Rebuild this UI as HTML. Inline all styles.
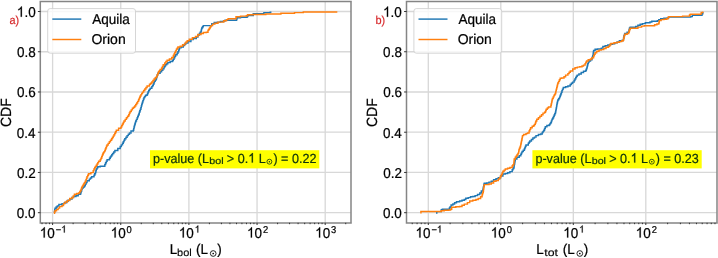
<!DOCTYPE html>
<html><head><meta charset="utf-8"><style>
html,body{margin:0;padding:0;background:#fff;}
svg{display:block;font-family:"Liberation Sans", sans-serif;}
text{filter:grayscale(1);stroke:#000;stroke-width:0.22px;}
text.r{filter:grayscale(1) url(#fr);stroke-width:0.2px;}
text.s{stroke-width:0.12px;}
tspan.h{fill-opacity:0;stroke-opacity:0;}
svg{font-kerning:none;text-rendering:geometricPrecision;}
text.g{filter:grayscale(1) url(#fg);}
</style></head><body>
<svg width="718" height="258" viewBox="0 0 718 258" fill="#000000">
<defs><filter id="fr" color-interpolation-filters="sRGB"><feColorMatrix type="matrix" values="0 0 0 0 0.84  0 0 0 0 0.15  0 0 0 0 0.16  0 0 0 1 0"/></filter><filter id="fg" color-interpolation-filters="sRGB"><feColorMatrix type="matrix" values="0 0 0 0 0.055  0 0 0 0 0.196  0 0 0 0 0.039  0 0 0 1 0"/></filter></defs>
<clipPath id="clipL"><rect x="40.5" y="1.3" width="310.40" height="221.50"/></clipPath>
<path d="M52.60,1.3 V222.8 M120.75,1.3 V222.8 M188.90,1.3 V222.8 M257.05,1.3 V222.8 M325.20,1.3 V222.8 M40.5,212.70 H350.9 M40.5,172.46 H350.9 M40.5,132.22 H350.9 M40.5,91.98 H350.9 M40.5,51.74 H350.9 M40.5,11.50 H350.9" stroke="#d8d8d8" stroke-width="1.3" fill="none"/>
<path d="M54.20,212.70 L54.47,212.70 L54.47,211.20 L54.73,211.20 L54.73,209.70 L55.00,209.70 L55.00,208.20 L56.15,208.20 L56.15,207.05 L57.30,207.05 L57.30,205.90 L58.90,205.90 L58.90,204.40 L62.00,204.40 L62.00,203.60 L64.30,203.60 L64.30,202.80 L66.60,202.80 L66.60,201.30 L68.15,201.30 L68.15,200.10 L69.70,200.10 L69.70,198.90 L72.00,198.90 L72.00,197.40 L73.60,197.40 L73.60,196.60 L75.90,196.60 L75.90,195.80 L78.20,195.80 L78.20,194.30 L80.60,194.30 L80.60,192.70 L81.10,192.70 L81.10,191.17 L81.60,191.17 L81.60,189.63 L82.10,189.63 L82.10,188.10 L83.25,188.10 L83.25,186.95 L84.40,186.95 L84.40,185.80 L85.27,185.80 L85.27,184.10 L86.13,184.10 L86.13,182.40 L87.00,182.40 L87.00,180.70 L89.30,180.70 L89.30,179.10 L90.45,179.10 L90.45,177.95 L91.60,177.95 L91.60,176.80 L94.00,176.80 L94.00,175.20 L94.75,175.20 L94.75,173.65 L95.50,173.65 L95.50,172.10 L95.90,172.10 L95.90,170.55 L96.30,170.55 L96.30,169.00 L97.05,169.00 L97.05,167.85 L97.80,167.85 L97.80,166.70 L100.20,166.70 L100.20,166.20 L104.00,166.20 L104.00,166.20 L104.80,166.20 L104.80,164.50 L105.60,164.50 L105.60,162.80 L106.35,162.80 L106.35,161.25 L107.10,161.25 L107.10,159.70 L109.50,159.70 L109.50,158.20 L110.25,158.20 L110.25,157.05 L111.00,157.05 L111.00,155.90 L111.80,155.90 L111.80,154.70 L112.60,154.70 L112.60,153.50 L113.75,153.50 L113.75,151.95 L114.90,151.95 L114.90,150.40 L117.80,150.40 L117.80,148.40 L120.20,148.40 L120.20,146.40 L121.35,146.40 L121.35,144.85 L122.50,144.85 L122.50,143.30 L123.27,143.30 L123.27,141.77 L124.03,141.77 L124.03,140.23 L124.80,140.23 L124.80,138.70 L125.95,138.70 L125.95,137.15 L127.10,137.15 L127.10,135.60 L128.30,135.60 L128.30,134.25 L129.50,134.25 L129.50,132.90 L131.00,132.90 L131.00,130.90 L133.30,130.90 L133.30,130.20 L133.67,130.20 L133.67,128.63 L134.03,128.63 L134.03,127.07 L134.40,127.07 L134.40,125.50 L134.83,125.50 L134.83,123.97 L135.27,123.97 L135.27,122.43 L135.70,122.43 L135.70,120.90 L136.45,120.90 L136.45,119.35 L137.20,119.35 L137.20,117.80 L137.73,117.80 L137.73,116.50 L138.27,116.50 L138.27,115.20 L138.80,115.20 L138.80,113.90 L139.30,113.90 L139.30,112.30 L139.80,112.30 L139.80,110.70 L140.35,110.70 L140.35,109.15 L140.90,109.15 L140.90,107.60 L141.30,107.60 L141.30,106.05 L141.70,106.05 L141.70,104.50 L142.10,104.50 L142.10,103.20 L142.50,103.20 L142.50,101.90 L142.90,101.90 L142.90,100.60 L143.45,100.60 L143.45,99.05 L144.00,99.05 L144.00,97.50 L144.80,97.50 L144.80,96.35 L145.60,96.35 L145.60,95.20 L147.10,95.20 L147.10,94.40 L147.63,94.40 L147.63,93.10 L148.17,93.10 L148.17,91.80 L148.70,91.80 L148.70,90.50 L149.45,90.50 L149.45,89.35 L150.20,89.35 L150.20,88.20 L151.80,88.20 L151.80,86.60 L152.55,86.60 L152.55,85.45 L153.30,85.45 L153.30,84.30 L153.85,84.30 L153.85,82.75 L154.40,82.75 L154.40,81.20 L155.20,81.20 L155.20,80.05 L156.00,80.05 L156.00,78.90 L156.45,78.90 L156.45,77.50 L156.90,77.50 L156.90,76.10 L157.35,76.10 L157.35,74.70 L157.80,74.70 L157.80,73.30 L160.10,73.30 L160.10,71.80 L161.60,71.80 L161.60,70.20 L162.80,70.20 L162.80,68.65 L164.00,68.65 L164.00,67.10 L164.75,67.10 L164.75,65.95 L165.50,65.95 L165.50,64.80 L166.65,64.80 L166.65,63.65 L167.80,63.65 L167.80,62.50 L170.20,62.50 L170.20,61.40 L172.50,61.40 L172.50,60.50 L173.25,60.50 L173.25,59.15 L174.00,59.15 L174.00,57.80 L174.80,57.80 L174.80,56.25 L175.60,56.25 L175.60,54.70 L177.10,54.70 L177.10,53.20 L177.90,53.20 L177.90,51.65 L178.70,51.65 L178.70,50.10 L179.10,50.10 L179.10,48.95 L179.50,48.95 L179.50,47.80 L181.00,47.80 L181.00,47.00 L183.30,47.00 L183.30,45.40 L184.50,45.40 L184.50,44.25 L185.70,44.25 L185.70,43.10 L188.00,43.10 L188.00,41.60 L190.90,41.60 L190.90,39.60 L193.20,39.60 L193.20,38.50 L196.30,38.50 L196.30,37.00 L197.90,37.00 L197.90,35.00 L199.40,35.00 L199.40,33.40 L200.20,33.40 L200.20,32.25 L201.00,32.25 L201.00,31.10 L201.35,31.10 L201.35,29.55 L201.70,29.55 L201.70,28.00 L202.50,28.00 L202.50,26.80 L203.30,26.80 L203.30,25.60 L209.50,25.60 L209.50,25.60 L211.80,25.60 L211.80,23.60 L214.20,23.60 L214.20,22.50 L217.30,22.50 L217.30,22.10 L220.40,22.10 L220.40,21.50 L223.50,21.50 L223.50,21.00 L225.00,21.00 L225.00,20.20 L228.10,20.20 L228.10,20.20 L236.20,20.20 L236.20,20.20 L236.60,20.20 L236.60,18.95 L237.00,18.95 L237.00,17.70 L240.50,17.70 L240.50,17.30 L247.10,17.30 L247.10,16.40 L247.80,16.40 L247.80,15.40 L253.30,15.40 L253.30,13.60 L262.90,13.60 L262.90,13.60 L263.90,13.60 L263.90,12.60 L270.20,12.60 L270.20,12.30 L270.70,12.30 L270.70,11.50" stroke="#1f77b4" stroke-width="1.45" fill="none" stroke-linejoin="miter" stroke-linecap="butt" clip-path="url(#clipL)"/>
<path d="M53.90,213.30 L54.45,213.30 L54.45,212.05 L55.00,212.05 L55.00,210.80 L56.50,210.80 L56.50,209.60 L58.10,209.60 L58.10,208.10 L59.60,208.10 L59.60,206.60 L62.00,206.60 L62.00,205.60 L63.50,205.60 L63.50,203.60 L65.10,203.60 L65.10,202.00 L67.40,202.00 L67.40,200.50 L69.70,200.50 L69.70,198.50 L72.00,198.50 L72.00,197.40 L73.20,197.40 L73.20,195.85 L74.40,195.85 L74.40,194.30 L76.70,194.30 L76.70,193.50 L79.00,193.50 L79.00,192.70 L79.80,192.70 L79.80,191.55 L80.60,191.55 L80.60,190.40 L81.10,190.40 L81.10,189.10 L81.60,189.10 L81.60,187.80 L82.10,187.80 L82.10,186.50 L82.87,186.50 L82.87,185.23 L83.63,185.23 L83.63,183.97 L84.40,183.97 L84.40,182.70 L85.20,182.70 L85.20,181.15 L86.00,181.15 L86.00,179.60 L86.50,179.60 L86.50,178.20 L87.00,178.20 L87.00,176.80 L87.75,176.80 L87.75,175.25 L88.50,175.25 L88.50,173.70 L90.90,173.70 L90.90,172.60 L93.20,172.60 L93.20,170.60 L93.95,170.60 L93.95,169.05 L94.70,169.05 L94.70,167.50 L95.50,167.50 L95.50,166.35 L96.30,166.35 L96.30,165.20 L97.07,165.20 L97.07,163.90 L97.83,163.90 L97.83,162.60 L98.60,162.60 L98.60,161.30 L100.20,161.30 L100.20,159.70 L100.95,159.70 L100.95,158.15 L101.70,158.15 L101.70,156.60 L102.23,156.60 L102.23,155.33 L102.77,155.33 L102.77,154.07 L103.30,154.07 L103.30,152.80 L104.05,152.80 L104.05,151.60 L104.80,151.60 L104.80,150.40 L105.35,150.40 L105.35,149.03 L105.90,149.03 L105.90,147.65 L106.45,147.65 L106.45,146.28 L107.00,146.28 L107.00,144.90 L108.15,144.90 L108.15,143.35 L109.30,143.35 L109.30,141.80 L110.45,141.80 L110.45,140.25 L111.60,140.25 L111.60,138.70 L112.40,138.70 L112.40,137.40 L113.20,137.40 L113.20,136.10 L114.00,136.10 L114.00,134.80 L114.77,134.80 L114.77,133.27 L115.53,133.27 L115.53,131.73 L116.30,131.73 L116.30,130.20 L118.60,130.20 L118.60,128.30 L120.90,128.30 L120.90,127.10 L121.70,127.10 L121.70,125.55 L122.50,125.55 L122.50,124.00 L123.25,124.00 L123.25,122.45 L124.00,122.45 L124.00,120.90 L125.20,120.90 L125.20,119.35 L126.40,119.35 L126.40,117.80 L127.55,117.80 L127.55,116.25 L128.70,116.25 L128.70,114.70 L129.40,114.70 L129.40,113.05 L130.10,113.05 L130.10,111.40 L131.25,111.40 L131.25,109.85 L132.40,109.85 L132.40,108.30 L133.55,108.30 L133.55,107.15 L134.70,107.15 L134.70,106.00 L135.70,106.00 L135.70,104.45 L136.70,104.45 L136.70,102.90 L137.65,102.90 L137.65,101.35 L138.60,101.35 L138.60,99.80 L139.13,99.80 L139.13,98.50 L139.67,98.50 L139.67,97.20 L140.20,97.20 L140.20,95.90 L140.97,95.90 L140.97,94.63 L141.73,94.63 L141.73,93.37 L142.50,93.37 L142.50,92.10 L143.65,92.10 L143.65,90.55 L144.80,90.55 L144.80,89.00 L145.95,89.00 L145.95,87.45 L147.10,87.45 L147.10,85.90 L149.50,85.90 L149.50,84.30 L150.65,84.30 L150.65,83.15 L151.80,83.15 L151.80,82.00 L152.95,82.00 L152.95,80.45 L154.10,80.45 L154.10,78.90 L155.25,78.90 L155.25,77.75 L156.40,77.75 L156.40,76.60 L157.10,76.60 L157.10,75.00 L157.80,75.00 L157.80,73.40 L158.50,73.40 L158.50,71.80 L159.30,71.80 L159.30,70.65 L160.10,70.65 L160.10,69.50 L161.60,69.50 L161.60,67.90 L162.40,67.90 L162.40,66.35 L163.20,66.35 L163.20,64.80 L164.70,64.80 L164.70,62.90 L165.90,62.90 L165.90,61.55 L167.10,61.55 L167.10,60.20 L169.40,60.20 L169.40,58.90 L171.70,58.90 L171.70,57.40 L173.30,57.40 L173.30,55.50 L174.05,55.50 L174.05,53.95 L174.80,53.95 L174.80,52.40 L175.60,52.40 L175.60,50.85 L176.40,50.85 L176.40,49.30 L177.15,49.30 L177.15,48.15 L177.90,48.15 L177.90,47.00 L180.20,47.00 L180.20,46.20 L182.60,46.20 L182.60,44.70 L184.90,44.70 L184.90,43.10 L186.05,43.10 L186.05,41.95 L187.20,41.95 L187.20,40.80 L189.30,40.80 L189.30,39.20 L192.40,39.20 L192.40,37.60 L195.50,37.60 L195.50,36.50 L197.90,36.50 L197.90,34.50 L201.00,34.50 L201.00,33.40 L203.30,33.40 L203.30,32.60 L206.40,32.60 L206.40,32.30 L208.00,32.30 L208.00,30.30 L208.75,30.30 L208.75,29.15 L209.50,29.15 L209.50,28.00 L210.30,28.00 L210.30,26.80 L211.10,26.80 L211.10,25.60 L212.60,25.60 L212.60,24.10 L214.90,24.10 L214.90,23.30 L218.00,23.30 L218.00,22.10 L221.90,22.10 L221.90,22.10 L223.80,22.10 L223.80,20.80 L226.50,20.80 L226.50,19.60 L228.10,19.60 L228.10,18.70 L235.10,18.70 L235.10,18.70 L236.00,18.70 L236.00,16.70 L240.50,16.70 L240.50,16.10 L246.30,16.10 L246.30,15.80 L247.50,15.80 L247.50,14.80 L253.10,14.80 L253.10,14.50 L264.80,14.50 L264.80,14.50 L265.80,14.50 L265.80,13.90 L279.50,13.90 L279.50,13.90 L280.90,13.90 L280.90,13.30 L294.50,13.30 L294.50,13.30 L294.50,13.30 L294.50,12.60 L303.30,12.60 L303.30,12.60 L303.30,12.60 L303.30,11.90 L336.40,11.90 L336.40,11.90 L336.60,11.90 L336.60,11.30" stroke="#ff7f0e" stroke-width="1.45" fill="none" stroke-linejoin="miter" stroke-linecap="butt" clip-path="url(#clipL)"/>
<path d="M40.3,0.8 V223.8 M351.0,0.8 V223.8 M39.599999999999994,1.5 H351.8 M39.599999999999994,223.0 H351.8" fill="none" stroke="#858585" stroke-width="1.5"/>
<path d="M37.90,212.70 H40.5 M37.90,172.46 H40.5 M37.90,132.22 H40.5 M37.90,91.98 H40.5 M37.90,51.74 H40.5 M37.90,11.50 H40.5 M52.60,222.8 V225.00 M120.75,222.8 V225.00 M188.90,222.8 V225.00 M257.05,222.8 V225.00 M325.20,222.8 V225.00 M42.04,222.8 V224.20 M46.00,222.8 V224.20 M49.48,222.8 V224.20 M73.12,222.8 V224.20 M85.12,222.8 V224.20 M93.63,222.8 V224.20 M100.23,222.8 V224.20 M105.63,222.8 V224.20 M110.19,222.8 V224.20 M114.15,222.8 V224.20 M117.63,222.8 V224.20 M141.27,222.8 V224.20 M153.27,222.8 V224.20 M161.78,222.8 V224.20 M168.38,222.8 V224.20 M173.78,222.8 V224.20 M178.34,222.8 V224.20 M182.30,222.8 V224.20 M185.78,222.8 V224.20 M209.42,222.8 V224.20 M221.42,222.8 V224.20 M229.93,222.8 V224.20 M236.53,222.8 V224.20 M241.93,222.8 V224.20 M246.49,222.8 V224.20 M250.45,222.8 V224.20 M253.93,222.8 V224.20 M277.57,222.8 V224.20 M289.57,222.8 V224.20 M298.08,222.8 V224.20 M304.68,222.8 V224.20 M310.08,222.8 V224.20 M314.64,222.8 V224.20 M318.60,222.8 V224.20 M322.08,222.8 V224.20 M345.72,222.8 V224.20" stroke="#333" stroke-width="1" fill="none"/>
<text transform="translate(16.86,218.00) scale(1,1.06)" font-size="13.5">0.0</text>
<text transform="translate(17.01,177.76) scale(1,1.06)" font-size="13.5">0.2</text>
<text transform="translate(16.73,137.52) scale(1,1.06)" font-size="13.5">0.4</text>
<text transform="translate(16.93,97.28) scale(1,1.06)" font-size="13.5">0.6</text>
<text transform="translate(16.92,57.04) scale(1,1.06)" font-size="13.5">0.8</text>
<g transform="translate(16.86,16.80) scale(1,1.06)"><text font-size="13.5"><tspan class="h">1</tspan>.0</text><path d="M763 0L583 0L583 1147Q518 1085 412 1023Q307 961 223 930L223 1104Q374 1175 487 1276Q600 1377 647 1472L763 1472Z" transform="translate(0.00,0) scale(0.00659,-0.00659)" fill="#000000" stroke="#000000" stroke-width="0.22" vector-effect="non-scaling-stroke"/></g>
<g transform="translate(39.78,237.60) scale(1,1.06)"><text font-size="13.5"><tspan class="h">1</tspan>0</text><path d="M763 0L583 0L583 1147Q518 1085 412 1023Q307 961 223 930L223 1104Q374 1175 487 1276Q600 1377 647 1472L763 1472Z" transform="translate(0.00,0) scale(0.00659,-0.00659)" fill="#000000" stroke="#000000" stroke-width="0.22" vector-effect="non-scaling-stroke"/></g>
<g transform="translate(55.70,232.60) scale(1,1.06)"><text font-size="9.4">−<tspan class="h">1</tspan></text><path d="M763 0L583 0L583 1147Q518 1085 412 1023Q307 961 223 930L223 1104Q374 1175 487 1276Q600 1377 647 1472L763 1472Z" transform="translate(5.49,0) scale(0.00459,-0.00459)" fill="#000000" stroke="#000000" stroke-width="0.22" vector-effect="non-scaling-stroke"/></g>
<g transform="translate(110.68,237.60) scale(1,1.06)"><text font-size="13.5"><tspan class="h">1</tspan>0</text><path d="M763 0L583 0L583 1147Q518 1085 412 1023Q307 961 223 930L223 1104Q374 1175 487 1276Q600 1377 647 1472L763 1472Z" transform="translate(0.00,0) scale(0.00659,-0.00659)" fill="#000000" stroke="#000000" stroke-width="0.22" vector-effect="non-scaling-stroke"/></g>
<text transform="translate(126.59,232.60) scale(1,1.06)" font-size="9.4">0</text>
<g transform="translate(178.83,237.60) scale(1,1.06)"><text font-size="13.5"><tspan class="h">1</tspan>0</text><path d="M763 0L583 0L583 1147Q518 1085 412 1023Q307 961 223 930L223 1104Q374 1175 487 1276Q600 1377 647 1472L763 1472Z" transform="translate(0.00,0) scale(0.00659,-0.00659)" fill="#000000" stroke="#000000" stroke-width="0.22" vector-effect="non-scaling-stroke"/></g>
<g transform="translate(194.74,232.60) scale(1,1.06)"><text font-size="9.4"><tspan class="h">1</tspan></text><path d="M763 0L583 0L583 1147Q518 1085 412 1023Q307 961 223 930L223 1104Q374 1175 487 1276Q600 1377 647 1472L763 1472Z" transform="translate(0.00,0) scale(0.00459,-0.00459)" fill="#000000" stroke="#000000" stroke-width="0.22" vector-effect="non-scaling-stroke"/></g>
<g transform="translate(246.98,237.60) scale(1,1.06)"><text font-size="13.5"><tspan class="h">1</tspan>0</text><path d="M763 0L583 0L583 1147Q518 1085 412 1023Q307 961 223 930L223 1104Q374 1175 487 1276Q600 1377 647 1472L763 1472Z" transform="translate(0.00,0) scale(0.00659,-0.00659)" fill="#000000" stroke="#000000" stroke-width="0.22" vector-effect="non-scaling-stroke"/></g>
<text transform="translate(262.89,232.60) scale(1,1.06)" font-size="9.4">2</text>
<g transform="translate(315.13,237.60) scale(1,1.06)"><text font-size="13.5"><tspan class="h">1</tspan>0</text><path d="M763 0L583 0L583 1147Q518 1085 412 1023Q307 961 223 930L223 1104Q374 1175 487 1276Q600 1377 647 1472L763 1472Z" transform="translate(0.00,0) scale(0.00659,-0.00659)" fill="#000000" stroke="#000000" stroke-width="0.22" vector-effect="non-scaling-stroke"/></g>
<text transform="translate(331.04,232.60) scale(1,1.06)" font-size="9.4">3</text>
<text transform="translate(9.54,23.60) scale(1,1.06)" font-size="10.9" class="r">a)</text>
<text transform="translate(10.80,112.65) rotate(-90) scale(1,1.06)" font-size="14" text-anchor="middle">CDF</text>
<text transform="translate(169.69,253.80) scale(1,1.06)" font-size="13.5">L</text>
<text transform="translate(177.09,256.40) scale(1.1195,1.06)" font-size="9.8" class="s">bol</text>
<text transform="translate(196.06,253.80) scale(1,1.06)" font-size="13.5">(L</text>
<circle cx="213.20" cy="253.50" r="2.85" fill="none" stroke="#000000" stroke-width="0.85"/><circle cx="213.20" cy="253.50" r="0.85" fill="#000000"/>
<text transform="translate(217.24,253.80) scale(1,1.06)" font-size="13.5">)</text>
<rect x="47.70" y="8.6" width="87.8" height="44.6" rx="2.5" fill="#fff" fill-opacity="0.8" stroke="#cccccc" stroke-opacity="0.8" stroke-width="1"/>
<path d="M52.30,19.1 H81.30" stroke="#1f77b4" stroke-width="1.45"/>
<path d="M52.30,39.5 H81.30" stroke="#ff7f0e" stroke-width="1.45"/>
<text transform="translate(92.27,24.10) scale(1.0101,1.06)" font-size="13.4">Aquila</text>
<text transform="translate(91.44,44.30) scale(1.0460,1.06)" font-size="13.4">Orion</text>
<rect x="150.00" y="150.2" width="169.3" height="18.2" fill="#ffff00"/>
<text transform="translate(153.00,162.60) scale(1,1.05)" font-size="12.6" class="g">p-value (L</text>
<text transform="translate(209.31,164.20) scale(1.1821,1.05)" font-size="9.0" class="g">bol</text>
<g transform="translate(226.80,162.60) scale(1,1.05)"><text font-size="12.6" class="g">&gt; 0.<tspan class="h">1</tspan> L</text><path d="M763 0L583 0L583 1147Q518 1085 412 1023Q307 961 223 930L223 1104Q374 1175 487 1276Q600 1377 647 1472L763 1472Z" transform="translate(21.37,0) scale(0.00615,-0.00615)" fill="#0e320a" stroke="#0e320a" stroke-width="0.22" vector-effect="non-scaling-stroke"/></g>
<circle cx="269.40" cy="161.70" r="2.45" fill="none" stroke="#0e320a" stroke-width="0.8"/><circle cx="269.40" cy="161.70" r="0.75" fill="#0e320a"/>
<text transform="translate(273.40,162.60) scale(1,1.05)" font-size="12.6" class="g">) = 0.22</text>
<clipPath id="clipR"><rect x="406.7" y="1.3" width="310.10" height="221.50"/></clipPath>
<path d="M428.30,1.3 V222.8 M500.80,1.3 V222.8 M573.30,1.3 V222.8 M645.80,1.3 V222.8 M406.7,212.70 H716.8 M406.7,172.46 H716.8 M406.7,132.22 H716.8 M406.7,91.98 H716.8 M406.7,51.74 H716.8 M406.7,11.50 H716.8" stroke="#d8d8d8" stroke-width="1.3" fill="none"/>
<path d="M436.00,213.00 L436.80,213.00 L436.80,211.60 L440.20,211.60 L440.20,211.60 L441.30,211.60 L441.30,209.80 L442.40,209.80 L442.40,209.20 L448.80,209.20 L448.80,209.20 L449.40,209.20 L449.40,208.05 L450.00,208.05 L450.00,206.90 L451.10,206.90 L451.10,204.90 L452.90,204.90 L452.90,204.00 L454.60,204.00 L454.60,202.80 L456.50,202.80 L456.50,201.80 L459.60,201.80 L459.60,201.00 L462.00,201.00 L462.00,200.20 L464.30,200.20 L464.30,199.50 L465.80,199.50 L465.80,198.20 L468.20,198.20 L468.20,197.60 L470.50,197.60 L470.50,196.70 L472.80,196.70 L472.80,196.40 L475.10,196.40 L475.10,195.60 L477.50,195.60 L477.50,194.50 L479.80,194.50 L479.80,192.90 L481.30,192.90 L481.30,190.90 L482.90,190.90 L482.90,189.40 L483.17,189.40 L483.17,188.05 L483.45,188.05 L483.45,186.70 L483.73,186.70 L483.73,185.35 L484.00,185.35 L484.00,184.00 L484.30,184.00 L484.30,183.30 L486.70,183.30 L486.70,182.90 L489.00,182.90 L489.00,182.10 L491.30,182.10 L491.30,181.30 L493.60,181.30 L493.60,179.80 L496.00,179.80 L496.00,178.70 L498.30,178.70 L498.30,177.80 L500.60,177.80 L500.60,175.90 L502.90,175.90 L502.90,174.00 L505.30,174.00 L505.30,173.60 L507.60,173.60 L507.60,172.80 L509.90,172.80 L509.90,171.60 L512.20,171.60 L512.20,169.70 L513.00,169.70 L513.00,168.55 L513.80,168.55 L513.80,167.40 L514.07,167.40 L514.07,165.83 L514.33,165.83 L514.33,164.27 L514.60,164.27 L514.60,162.70 L514.83,162.70 L514.83,161.43 L515.07,161.43 L515.07,160.17 L515.30,160.17 L515.30,158.90 L516.90,158.90 L516.90,157.30 L519.20,157.30 L519.20,155.80 L520.80,155.80 L520.80,154.20 L521.45,154.20 L521.45,152.85 L522.10,152.85 L522.10,151.50 L523.25,151.50 L523.25,150.15 L524.40,150.15 L524.40,148.80 L524.93,148.80 L524.93,147.50 L525.47,147.50 L525.47,146.20 L526.00,146.20 L526.00,144.90 L528.30,144.90 L528.30,143.30 L529.05,143.30 L529.05,142.15 L529.80,142.15 L529.80,141.00 L531.40,141.00 L531.40,139.50 L532.90,139.50 L532.90,137.90 L534.50,137.90 L534.50,137.10 L536.00,137.10 L536.00,135.60 L538.40,135.60 L538.40,134.50 L540.70,134.50 L540.70,134.00 L542.20,134.00 L542.20,132.50 L543.00,132.50 L543.00,131.35 L543.80,131.35 L543.80,130.20 L544.55,130.20 L544.55,128.45 L545.30,128.45 L545.30,126.70 L546.90,126.70 L546.90,125.50 L549.20,125.50 L549.20,124.70 L550.00,124.70 L550.00,123.55 L550.80,123.55 L550.80,122.40 L551.40,122.40 L551.40,120.85 L552.00,120.85 L552.00,119.30 L552.75,119.30 L552.75,117.90 L553.50,117.90 L553.50,116.50 L554.17,116.50 L554.17,115.00 L554.83,115.00 L554.83,113.50 L555.50,113.50 L555.50,112.00 L555.77,112.00 L555.77,110.57 L556.03,110.57 L556.03,109.13 L556.30,109.13 L556.30,107.70 L556.57,107.70 L556.57,106.13 L556.83,106.13 L556.83,104.57 L557.10,104.57 L557.10,103.00 L557.45,103.00 L557.45,101.45 L557.80,101.45 L557.80,99.90 L558.60,99.90 L558.60,98.75 L559.40,98.75 L559.40,97.60 L559.90,97.60 L559.90,96.30 L560.40,96.30 L560.40,95.00 L560.90,95.00 L560.90,93.70 L561.43,93.70 L561.43,92.17 L561.97,92.17 L561.97,90.63 L562.50,90.63 L562.50,89.10 L563.30,89.10 L563.30,87.50 L565.60,87.50 L565.60,86.70 L567.90,86.70 L567.90,86.00 L570.20,86.00 L570.20,84.40 L571.40,84.40 L571.40,83.25 L572.60,83.25 L572.60,82.10 L574.10,82.10 L574.10,80.50 L574.90,80.50 L574.90,78.95 L575.70,78.95 L575.70,77.40 L576.45,77.40 L576.45,76.25 L577.20,76.25 L577.20,75.10 L578.90,75.10 L578.90,74.00 L581.20,74.00 L581.20,72.40 L583.50,72.40 L583.50,71.30 L585.80,71.30 L585.80,70.20 L586.35,70.20 L586.35,68.85 L586.90,68.85 L586.90,67.50 L587.20,67.50 L587.20,66.20 L587.50,66.20 L587.50,64.90 L587.80,64.90 L587.80,63.60 L588.35,63.60 L588.35,62.25 L588.90,62.25 L588.90,60.90 L590.50,60.90 L590.50,59.70 L592.00,59.70 L592.00,58.20 L592.37,58.20 L592.37,56.90 L592.73,56.90 L592.73,55.60 L593.10,55.60 L593.10,54.30 L593.27,54.30 L593.27,53.00 L593.43,53.00 L593.43,51.70 L593.60,51.70 L593.60,50.40 L595.10,50.40 L595.10,49.20 L597.50,49.20 L597.50,48.90 L599.80,48.90 L599.80,48.90 L601.30,48.90 L601.30,48.10 L602.90,48.10 L602.90,46.50 L605.20,46.50 L605.20,45.80 L607.80,45.80 L607.80,45.00 L610.10,45.00 L610.10,44.20 L612.40,44.20 L612.40,43.80 L614.70,43.80 L614.70,42.70 L617.10,42.70 L617.10,41.90 L619.40,41.90 L619.40,40.70 L621.70,40.70 L621.70,40.40 L623.30,40.40 L623.30,39.60 L623.53,39.60 L623.53,38.30 L623.77,38.30 L623.77,37.00 L624.00,37.00 L624.00,35.70 L624.40,35.70 L624.40,34.55 L624.80,34.55 L624.80,33.40 L627.10,33.40 L627.10,32.30 L628.70,32.30 L628.70,31.10 L629.10,31.10 L629.10,29.55 L629.50,29.55 L629.50,28.00 L630.20,28.00 L630.20,27.20 L633.30,27.20 L633.30,27.20 L635.70,27.20 L635.70,26.40 L637.90,26.40 L637.90,25.20 L640.20,25.20 L640.20,24.30 L642.50,24.30 L642.50,23.60 L645.30,23.60 L645.30,22.70 L650.00,22.70 L650.00,22.00 L651.80,22.00 L651.80,21.20 L657.40,21.20 L657.40,20.80 L658.80,20.80 L658.80,19.60 L660.70,19.60 L660.70,18.70 L663.90,18.70 L663.90,18.20 L667.20,18.20 L667.20,18.00 L668.60,18.00 L668.60,17.10 L690.70,17.10 L690.70,16.60 L692.30,16.60 L692.30,15.30 L701.60,15.30 L701.60,15.30 L702.00,15.30 L702.00,13.70 L702.80,13.70 L702.80,12.00" stroke="#1f77b4" stroke-width="1.45" fill="none" stroke-linejoin="miter" stroke-linecap="butt" clip-path="url(#clipR)"/>
<path d="M420.30,212.70 L420.90,212.70 L420.90,211.50 L440.10,211.50 L440.10,211.50 L441.30,211.50 L441.30,210.70 L444.20,210.70 L444.20,210.30 L448.80,210.30 L448.80,210.00 L450.60,210.00 L450.60,209.20 L451.70,209.20 L451.70,207.20 L455.80,207.20 L455.80,206.70 L459.60,206.70 L459.60,206.40 L462.00,206.40 L462.00,205.30 L464.30,205.30 L464.30,204.10 L467.40,204.10 L467.40,202.60 L469.70,202.60 L469.70,201.00 L472.80,201.00 L472.80,200.20 L475.90,200.20 L475.90,199.50 L478.20,199.50 L478.20,198.40 L480.60,198.40 L480.60,196.70 L482.10,196.70 L482.10,194.80 L482.50,194.80 L482.50,193.50 L482.90,193.50 L482.90,192.20 L483.30,192.20 L483.30,190.90 L483.50,190.90 L483.50,189.27 L483.70,189.27 L483.70,187.63 L483.90,187.63 L483.90,186.00 L484.30,186.00 L484.30,184.60 L486.70,184.60 L486.70,184.60 L489.00,184.60 L489.00,184.00 L491.30,184.00 L491.30,182.90 L493.60,182.90 L493.60,181.30 L496.00,181.30 L496.00,180.60 L498.30,180.60 L498.30,179.00 L499.80,179.00 L499.80,177.50 L500.60,177.50 L500.60,175.95 L501.40,175.95 L501.40,174.40 L502.15,174.40 L502.15,172.85 L502.90,172.85 L502.90,171.30 L504.10,171.30 L504.10,170.10 L505.30,170.10 L505.30,168.90 L507.60,168.90 L507.60,168.20 L509.90,168.20 L509.90,167.40 L512.20,167.40 L512.20,165.80 L513.00,165.80 L513.00,164.65 L513.80,164.65 L513.80,163.50 L513.93,163.50 L513.93,161.97 L514.07,161.97 L514.07,160.43 L514.20,160.43 L514.20,158.90 L515.30,158.90 L515.30,157.30 L516.10,157.30 L516.10,156.15 L516.90,156.15 L516.90,155.00 L517.65,155.00 L517.65,153.85 L518.40,153.85 L518.40,152.70 L518.70,152.70 L518.70,151.10 L519.00,151.10 L519.00,149.50 L519.50,149.50 L519.50,148.23 L520.00,148.23 L520.00,146.97 L520.50,146.97 L520.50,145.70 L520.77,145.70 L520.77,144.32 L521.05,144.32 L521.05,142.95 L521.33,142.95 L521.33,141.57 L521.60,141.57 L521.60,140.20 L521.90,140.20 L521.90,138.67 L522.20,138.67 L522.20,137.13 L522.50,137.13 L522.50,135.60 L523.60,135.60 L523.60,134.50 L526.00,134.50 L526.00,133.60 L527.50,133.60 L527.50,132.90 L529.10,132.90 L529.10,130.90 L529.85,130.90 L529.85,129.35 L530.60,129.35 L530.60,127.80 L532.20,127.80 L532.20,126.30 L533.70,126.30 L533.70,125.50 L534.50,125.50 L534.50,124.35 L535.30,124.35 L535.30,123.20 L535.65,123.20 L535.65,122.05 L536.00,122.05 L536.00,120.90 L536.80,120.90 L536.80,119.30 L538.40,119.30 L538.40,117.80 L539.90,117.80 L539.90,116.20 L541.50,116.20 L541.50,114.70 L543.00,114.70 L543.00,113.10 L544.60,113.10 L544.60,112.30 L545.40,112.30 L545.40,111.50 L545.80,111.50 L545.80,110.35 L546.20,110.35 L546.20,109.20 L547.35,109.20 L547.35,108.05 L548.50,108.05 L548.50,106.90 L550.90,106.90 L550.90,105.30 L551.25,105.30 L551.25,103.75 L551.60,103.75 L551.60,102.20 L551.87,102.20 L551.87,100.93 L552.13,100.93 L552.13,99.67 L552.40,99.67 L552.40,98.40 L553.20,98.40 L553.20,96.85 L554.00,96.85 L554.00,95.30 L554.75,95.30 L554.75,94.10 L555.50,94.10 L555.50,92.90 L555.77,92.90 L555.77,91.63 L556.03,91.63 L556.03,90.37 L556.30,90.37 L556.30,89.10 L556.70,89.10 L556.70,87.55 L557.10,87.55 L557.10,86.00 L557.45,86.00 L557.45,84.45 L557.80,84.45 L557.80,82.90 L558.60,82.90 L558.60,81.35 L559.40,81.35 L559.40,79.80 L560.20,79.80 L560.20,78.20 L561.70,78.20 L561.70,77.90 L564.00,77.90 L564.00,76.70 L565.60,76.70 L565.60,75.10 L567.90,75.10 L567.90,73.60 L569.10,73.60 L569.10,72.25 L570.30,72.25 L570.30,70.90 L572.70,70.90 L572.70,69.00 L575.00,69.00 L575.00,67.80 L577.30,67.80 L577.30,67.10 L579.60,67.10 L579.60,66.70 L582.00,66.70 L582.00,65.90 L583.50,65.90 L583.50,65.10 L585.10,65.10 L585.10,63.60 L585.85,63.60 L585.85,62.25 L586.60,62.25 L586.60,60.90 L588.20,60.90 L588.20,59.70 L590.50,59.70 L590.50,58.90 L592.00,58.90 L592.00,57.80 L593.60,57.80 L593.60,55.80 L594.35,55.80 L594.35,54.25 L595.10,54.25 L595.10,52.70 L596.70,52.70 L596.70,51.20 L599.00,51.20 L599.00,50.10 L601.30,50.10 L601.30,49.60 L603.70,49.60 L603.70,48.50 L606.00,48.50 L606.00,47.30 L608.50,47.30 L608.50,46.20 L609.70,46.20 L609.70,44.85 L610.90,44.85 L610.90,43.50 L614.00,43.50 L614.00,42.70 L617.10,42.70 L617.10,42.20 L619.40,42.20 L619.40,41.60 L621.70,41.60 L621.70,40.70 L623.30,40.70 L623.30,40.00 L623.65,40.00 L623.65,38.25 L624.00,38.25 L624.00,36.50 L624.40,36.50 L624.40,35.35 L624.80,35.35 L624.80,34.20 L627.10,34.20 L627.10,33.40 L628.70,33.40 L628.70,32.30 L629.10,32.30 L629.10,30.90 L629.50,30.90 L629.50,29.50 L630.20,29.50 L630.20,28.30 L635.70,28.30 L635.70,28.30 L637.90,28.30 L637.90,27.10 L641.60,27.10 L641.60,26.10 L644.40,26.10 L644.40,25.70 L651.80,25.70 L651.80,25.70 L654.60,25.70 L654.60,24.70 L656.90,24.70 L656.90,24.00 L658.80,24.00 L658.80,23.30 L659.05,23.30 L659.05,21.95 L659.30,21.95 L659.30,20.60 L661.10,20.60 L661.10,19.60 L663.90,19.60 L663.90,19.20 L666.70,19.20 L666.70,18.70 L668.10,18.70 L668.10,17.30 L669.00,17.30 L669.00,16.60 L682.60,16.60 L682.60,16.10 L689.50,16.10 L689.50,14.90 L690.30,14.90 L690.30,14.30 L700.40,14.30 L700.40,14.10 L701.20,14.10 L701.20,12.50 L702.80,12.50 L702.80,11.50" stroke="#ff7f0e" stroke-width="1.45" fill="none" stroke-linejoin="miter" stroke-linecap="butt" clip-path="url(#clipR)"/>
<path d="M406.5,0.8 V223.8 M717.0,0.8 V223.8 M405.8,1.5 H717.8 M405.8,223.0 H717.8" fill="none" stroke="#858585" stroke-width="1.5"/>
<path d="M404.10,212.70 H406.7 M404.10,172.46 H406.7 M404.10,132.22 H406.7 M404.10,91.98 H406.7 M404.10,51.74 H406.7 M404.10,11.50 H406.7 M428.30,222.8 V225.00 M500.80,222.8 V225.00 M573.30,222.8 V225.00 M645.80,222.8 V225.00 M412.22,222.8 V224.20 M417.07,222.8 V224.20 M421.27,222.8 V224.20 M424.98,222.8 V224.20 M450.12,222.8 V224.20 M462.89,222.8 V224.20 M471.95,222.8 V224.20 M478.98,222.8 V224.20 M484.72,222.8 V224.20 M489.57,222.8 V224.20 M493.77,222.8 V224.20 M497.48,222.8 V224.20 M522.62,222.8 V224.20 M535.39,222.8 V224.20 M544.45,222.8 V224.20 M551.48,222.8 V224.20 M557.22,222.8 V224.20 M562.07,222.8 V224.20 M566.27,222.8 V224.20 M569.98,222.8 V224.20 M595.12,222.8 V224.20 M607.89,222.8 V224.20 M616.95,222.8 V224.20 M623.98,222.8 V224.20 M629.72,222.8 V224.20 M634.57,222.8 V224.20 M638.77,222.8 V224.20 M642.48,222.8 V224.20 M667.62,222.8 V224.20 M680.39,222.8 V224.20 M689.45,222.8 V224.20 M696.48,222.8 V224.20 M702.22,222.8 V224.20 M707.07,222.8 V224.20 M711.27,222.8 V224.20 M714.98,222.8 V224.20" stroke="#333" stroke-width="1" fill="none"/>
<text transform="translate(383.06,218.00) scale(1,1.06)" font-size="13.5">0.0</text>
<text transform="translate(383.21,177.76) scale(1,1.06)" font-size="13.5">0.2</text>
<text transform="translate(382.93,137.52) scale(1,1.06)" font-size="13.5">0.4</text>
<text transform="translate(383.13,97.28) scale(1,1.06)" font-size="13.5">0.6</text>
<text transform="translate(383.12,57.04) scale(1,1.06)" font-size="13.5">0.8</text>
<g transform="translate(383.06,16.80) scale(1,1.06)"><text font-size="13.5"><tspan class="h">1</tspan>.0</text><path d="M763 0L583 0L583 1147Q518 1085 412 1023Q307 961 223 930L223 1104Q374 1175 487 1276Q600 1377 647 1472L763 1472Z" transform="translate(0.00,0) scale(0.00659,-0.00659)" fill="#000000" stroke="#000000" stroke-width="0.22" vector-effect="non-scaling-stroke"/></g>
<g transform="translate(415.48,237.60) scale(1,1.06)"><text font-size="13.5"><tspan class="h">1</tspan>0</text><path d="M763 0L583 0L583 1147Q518 1085 412 1023Q307 961 223 930L223 1104Q374 1175 487 1276Q600 1377 647 1472L763 1472Z" transform="translate(0.00,0) scale(0.00659,-0.00659)" fill="#000000" stroke="#000000" stroke-width="0.22" vector-effect="non-scaling-stroke"/></g>
<g transform="translate(431.40,232.60) scale(1,1.06)"><text font-size="9.4">−<tspan class="h">1</tspan></text><path d="M763 0L583 0L583 1147Q518 1085 412 1023Q307 961 223 930L223 1104Q374 1175 487 1276Q600 1377 647 1472L763 1472Z" transform="translate(5.49,0) scale(0.00459,-0.00459)" fill="#000000" stroke="#000000" stroke-width="0.22" vector-effect="non-scaling-stroke"/></g>
<g transform="translate(490.73,237.60) scale(1,1.06)"><text font-size="13.5"><tspan class="h">1</tspan>0</text><path d="M763 0L583 0L583 1147Q518 1085 412 1023Q307 961 223 930L223 1104Q374 1175 487 1276Q600 1377 647 1472L763 1472Z" transform="translate(0.00,0) scale(0.00659,-0.00659)" fill="#000000" stroke="#000000" stroke-width="0.22" vector-effect="non-scaling-stroke"/></g>
<text transform="translate(506.64,232.60) scale(1,1.06)" font-size="9.4">0</text>
<g transform="translate(563.23,237.60) scale(1,1.06)"><text font-size="13.5"><tspan class="h">1</tspan>0</text><path d="M763 0L583 0L583 1147Q518 1085 412 1023Q307 961 223 930L223 1104Q374 1175 487 1276Q600 1377 647 1472L763 1472Z" transform="translate(0.00,0) scale(0.00659,-0.00659)" fill="#000000" stroke="#000000" stroke-width="0.22" vector-effect="non-scaling-stroke"/></g>
<g transform="translate(579.14,232.60) scale(1,1.06)"><text font-size="9.4"><tspan class="h">1</tspan></text><path d="M763 0L583 0L583 1147Q518 1085 412 1023Q307 961 223 930L223 1104Q374 1175 487 1276Q600 1377 647 1472L763 1472Z" transform="translate(0.00,0) scale(0.00459,-0.00459)" fill="#000000" stroke="#000000" stroke-width="0.22" vector-effect="non-scaling-stroke"/></g>
<g transform="translate(635.73,237.60) scale(1,1.06)"><text font-size="13.5"><tspan class="h">1</tspan>0</text><path d="M763 0L583 0L583 1147Q518 1085 412 1023Q307 961 223 930L223 1104Q374 1175 487 1276Q600 1377 647 1472L763 1472Z" transform="translate(0.00,0) scale(0.00659,-0.00659)" fill="#000000" stroke="#000000" stroke-width="0.22" vector-effect="non-scaling-stroke"/></g>
<text transform="translate(651.64,232.60) scale(1,1.06)" font-size="9.4">2</text>
<text transform="translate(375.50,23.60) scale(1,1.06)" font-size="10.9" class="r">b)</text>
<text transform="translate(377.00,112.65) rotate(-90) scale(1,1.06)" font-size="14" text-anchor="middle">CDF</text>
<text transform="translate(536.29,253.80) scale(1,1.06)" font-size="13.5">L</text>
<text transform="translate(544.21,256.40) scale(1.2552,1.06)" font-size="9.8" class="s">tot</text>
<text transform="translate(562.66,253.80) scale(1,1.06)" font-size="13.5">(L</text>
<circle cx="579.80" cy="253.50" r="2.85" fill="none" stroke="#000000" stroke-width="0.85"/><circle cx="579.80" cy="253.50" r="0.85" fill="#000000"/>
<text transform="translate(583.84,253.80) scale(1,1.06)" font-size="13.5">)</text>
<rect x="413.90" y="8.6" width="87.8" height="44.6" rx="2.5" fill="#fff" fill-opacity="0.8" stroke="#cccccc" stroke-opacity="0.8" stroke-width="1"/>
<path d="M418.50,19.1 H447.50" stroke="#1f77b4" stroke-width="1.45"/>
<path d="M418.50,39.5 H447.50" stroke="#ff7f0e" stroke-width="1.45"/>
<text transform="translate(458.47,24.10) scale(1.0101,1.06)" font-size="13.4">Aquila</text>
<text transform="translate(457.64,44.30) scale(1.0460,1.06)" font-size="13.4">Orion</text>
<rect x="532.40" y="150.2" width="169.3" height="18.2" fill="#ffff00"/>
<text transform="translate(535.40,162.60) scale(1,1.05)" font-size="12.6" class="g">p-value (L</text>
<text transform="translate(591.71,164.20) scale(1.1821,1.05)" font-size="9.0" class="g">bol</text>
<g transform="translate(609.20,162.60) scale(1,1.05)"><text font-size="12.6" class="g">&gt; 0.<tspan class="h">1</tspan> L</text><path d="M763 0L583 0L583 1147Q518 1085 412 1023Q307 961 223 930L223 1104Q374 1175 487 1276Q600 1377 647 1472L763 1472Z" transform="translate(21.37,0) scale(0.00615,-0.00615)" fill="#0e320a" stroke="#0e320a" stroke-width="0.22" vector-effect="non-scaling-stroke"/></g>
<circle cx="651.80" cy="161.70" r="2.45" fill="none" stroke="#0e320a" stroke-width="0.8"/><circle cx="651.80" cy="161.70" r="0.75" fill="#0e320a"/>
<text transform="translate(655.80,162.60) scale(1,1.05)" font-size="12.6" class="g">) = 0.23</text>
</svg>
</body></html>
